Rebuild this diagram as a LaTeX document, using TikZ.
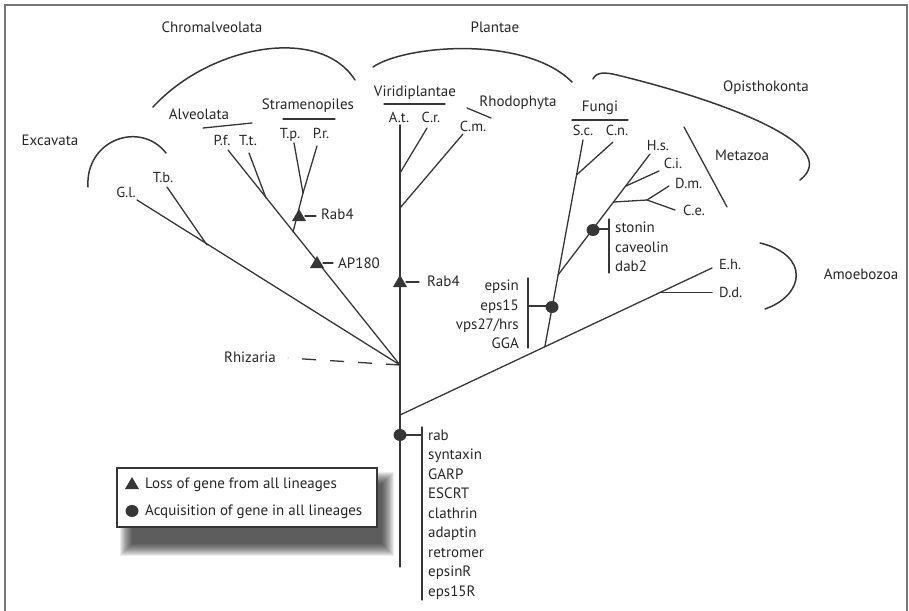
\documentclass[tikz,border=0pt]{standalone}
\usepackage{fontspec}
\setmainfont{PT Sans}
\definecolor{lc}{HTML}{363636}
\definecolor{tc}{HTML}{262626}
\definecolor{fc}{HTML}{777777}
\begin{document}
\begin{tikzpicture}[x=1pt,y=-1pt,
  br/.style={draw=lc, line width=1.3pt, line cap=round},
  arcl/.style={draw=lc, line width=1.5pt, line cap=round},
  lbl/.style={text=tc, inner sep=0pt, text height=10pt, text depth=0pt, font=\fontsize{15}{18}\selectfont},
  slbl/.style={lbl, font=\fontsize{14.5}{17}\selectfont},
  losstri/.pic={\fill[lc] (-7,5) -- (7,5) -- (0,-7) -- cycle;},
  gaindot/.pic={\fill[lc] (0,0) ellipse [x radius=6.5pt, y radius=6pt];}
]
\useasboundingbox (0,0) rectangle (909,610);
% frame
\draw[fc, line width=1.6pt] (5,615) -- (5,5) -- (907,5) -- (907,615);

% ---------- coordinates ----------
\coordinate (top) at (400,125);
\coordinate (bot) at (400,567);
\coordinate (root) at (400,365);
\coordinate (amo) at (400,415);
\coordinate (crj) at (400,173);
\coordinate (crt) at (427,128);
\coordinate (cmj) at (400,208);
\coordinate (cmt) at (463,134);
\coordinate (glt) at (137,200);
\coordinate (tbj) at (207,245);
\coordinate (tbt) at (167,187);
\coordinate (pft) at (228,150);
\coordinate (ttj) at (266,198);
\coordinate (ttt) at (249,153);
\coordinate (strb) at (293,232);
\coordinate (strj) at (303,193);
\coordinate (tpt) at (294,143);
\coordinate (prt) at (317,146);
\coordinate (rhz) at (288,358);
\coordinate (eht) at (712,268);
\coordinate (ddj) at (660,292.5);
\coordinate (ddt) at (712,292.5);
\coordinate (opb) at (545,346);
\coordinate (sct) at (583,140);
\coordinate (fnj) at (576.5,175);
\coordinate (cnt) at (613,142);
\coordinate (mzb) at (558,275);
\coordinate (hst) at (650,154);
\coordinate (cij) at (626,186);
\coordinate (cit) at (659,171);
\coordinate (dmb) at (614,202);
\coordinate (dmj) at (647,200);
\coordinate (dmt) at (669,186);
\coordinate (cet) at (675,210);

% ---------- branches ----------
\draw[br] (top) -- (bot);
\draw[br] (crj) -- (crt);
\draw[br] (cmj) -- (cmt);
\draw[br] (root) -- (glt);
\draw[br] (tbj) -- (tbt);
\draw[br] (root) -- (pft);
\draw[br] (ttj) -- (ttt);
\draw[br] (strb) -- (strj);
\draw[br] (strj) -- (tpt);
\draw[br] (strj) -- (prt);
\draw[draw=lc, line width=1.3pt, dash pattern=on 14pt off 14pt] (root) -- (rhz);
\draw[br] (amo) -- (eht);
\draw[br] (ddj) -- (ddt);
\draw[br] (opb) -- (sct);
\draw[br] (fnj) -- (cnt);
\draw[br] (mzb) -- (hst);
\draw[br] (cij) -- (cit);
\draw[br] (dmb) -- (dmj);
\draw[br] (dmj) -- (dmt);
\draw[br] (dmj) -- (cet);

% ---------- group arcs and bars ----------
\draw[arcl] (88,187) .. controls (85,140) and (140,120) .. (166,153);
\draw[arcl] (153,107) .. controls (210,45) and (320,25) .. (355,80);
\draw[arcl] (373,67) .. controls (405,45) and (525,35) .. (572,82);
\draw[arcl] (593,79) .. controls (596,72) and (605,72) .. (617,75)
            .. controls (720,100) and (845,145) .. (800,180);
\draw[arcl] (760,243) .. controls (810,255) and (805,295) .. (765,309);
\draw[br] (684,127) -- (727,207);
\draw[br] (203,128) -- (252,123);
\draw[br] (283,119) -- (335,119);
\draw[br] (384,104) -- (445,104);
\draw[br] (467,108) -- (491,118);
\draw[br] (572,120) -- (628,120);

% ---------- group labels ----------
\node[lbl] (nchrom) at (212,28) {Chromalveolata};
\node[lbl] (nplant) at (495,28) {Plantae};
\node[lbl] (nopis) at (766,86) {Opisthokonta};
\node[lbl] (nexc) at (50,140) {Excavata};
\node[lbl] (nalv) at (199,114) {Alveolata};
\node[lbl] (nstr) at (308,104) {Stramenopiles};
\node[lbl] (nvir) at (415,91) {Viridiplantae};
\node[lbl] (nrho) at (518,101) {Rhodophyta};
\node[lbl] (nfun) at (600,106) {Fungi};
\node[lbl] (nmet) at (742,155) {Metazoa};
\node[lbl] (namo) at (861,274) {Amoebozoa};
\node[lbl] (nrhz) at (250,357) {Rhizaria};

% ---------- species labels ----------
\node[slbl] (sgl) at (126,192) {G.l.};
\node[slbl] (stb) at (163,177) {T.b.};
\node[slbl] (spf) at (222,140) {P.f.};
\node[slbl] (stt) at (248,140) {T.t.};
\node[slbl] (stp) at (290,133) {T.p.};
\node[slbl] (spr) at (321,133) {P.r.};
\node[slbl] (sat) at (399,117) {A.t.};
\node[slbl] (scr) at (431,117) {C.r.};
\node[slbl] (scm) at (473,126) {C.m.};
\node[slbl] (ssc) at (583,130) {S.c.};
\node[slbl] (scn) at (617,130) {C.n.};
\node[slbl] (shs) at (658,145) {H.s.};
\node[slbl] (sci) at (673,163) {C.i.};
\node[slbl,anchor=west] (sdm) at (675,183) {D.m.};
\node[slbl,anchor=west] (sce) at (683,210) {C.e.};
\node[slbl,anchor=west] (seh) at (719,264) {E.h.};
\node[slbl,anchor=west] (sdd) at (719,292) {D.d.};

% ---------- loss markers ----------
\pic at (400,282) {losstri};
\draw[br] (406,282) -- (419,282);
\node[lbl,anchor=west] (lrab) at (427,281) {Rab4};
\pic at (317,263) {losstri};
\draw[br] (323,263) -- (333,263);
\node[lbl,anchor=west] (lap) at (338,263) {AP180};
\pic at (299,216) {losstri};
\draw[br] (305,216) -- (316,216);
\node[lbl,anchor=west] (lrab2) at (321,214) {Rab4};

% ---------- gain markers ----------
\pic at (593,230) {gaindot};
\draw[br] (598,229) -- (609,229);
\draw[br] (609,219) -- (609,273);
\node[lbl,anchor=west] (gst) at (615,227) {stonin};
\node[lbl,anchor=west] (gca) at (615,247) {caveolin};
\node[lbl,anchor=west] (gda) at (615,266) {dab2};

\pic at (552,307) {gaindot};
\draw[br] (528,306) -- (546,306);
\draw[br] (528,278) -- (528,348);
\node[lbl,anchor=east] (gep) at (519,285) {epsin};
\node[lbl,anchor=east] (ge15) at (519,305) {eps15};
\node[lbl,anchor=east] (gvps) at (519,324) {vps27/hrs};
\node[lbl,anchor=east] (ggga) at (519,343) {GGA};

\pic at (400,435) {gaindot};
\draw[br] (405,435) -- (422,435);
\draw[br] (422,427) -- (422,600);
\foreach \t [count=\i from 0] in {rab,syntaxin,GARP,ESCRT,clathrin,adaptin,retromer,epsinR,eps15R}{
  \node[lbl,anchor=west] (g\i) at (428,{435+19.5*\i}) {\t};
}

% ---------- legend (soft drop shadow) ----------
\foreach \r in {0,1,...,12}{
  \fill[black, opacity=0.075] ({120+\r},{472+\r}) rectangle ({394-\r},{556-\r});
}
\draw[lc, fill=white, line width=1.2pt] (117,468) rectangle (377,527);
\pic at (132,484) {losstri};
\node[lbl,anchor=west] (leg1) at (145,483) {Loss of gene from all lineages};
\pic at (132,511) {gaindot};
\node[lbl,anchor=west] (leg2) at (145,510) {Acquisition of gene in all lineages};
\end{tikzpicture}
\end{document}
